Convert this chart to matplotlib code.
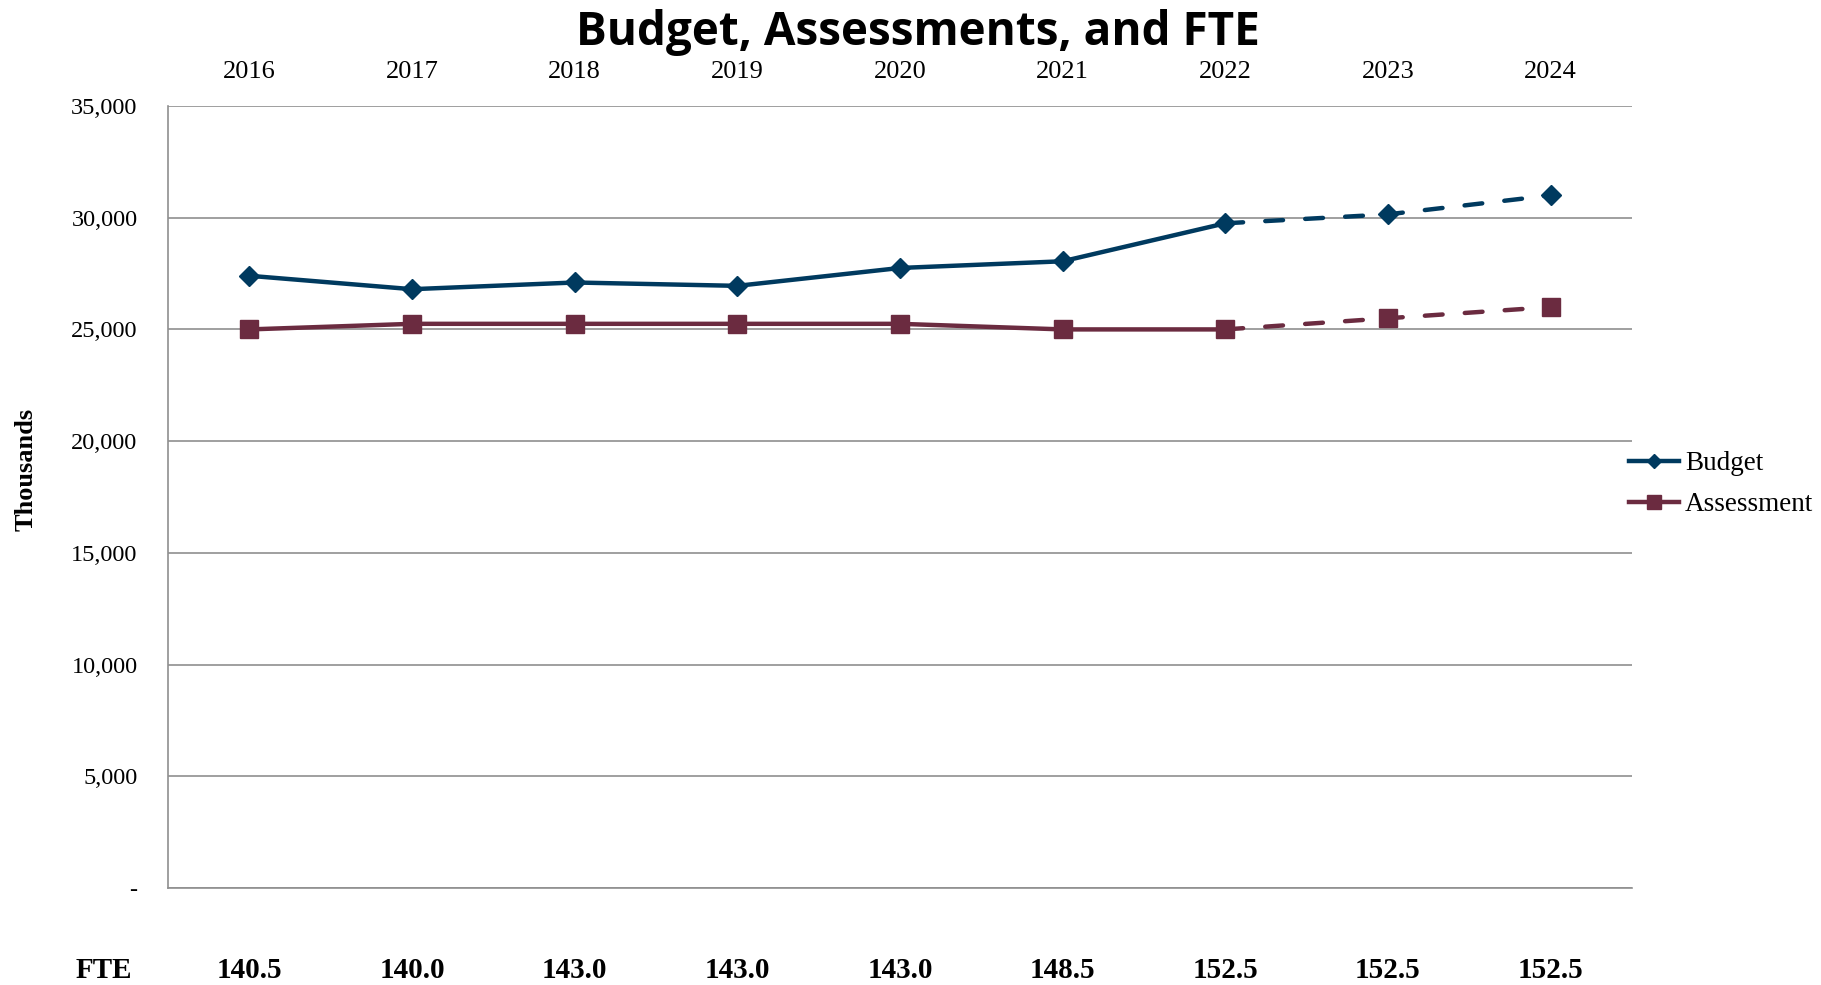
import matplotlib.pyplot as plt
import numpy as np

plt.rcParams['font.family'] = ['Liberation Serif', 'DejaVu Serif']

years = ['2016', '2017', '2018', '2019', '2020', '2021', '2022', '2023', '2024']
budget = [27400, 26800, 27100, 26950, 27750, 28050, 29750, 30150, 31000]
assessment = [25000, 25250, 25250, 25250, 25250, 25000, 25000, 25500, 26000]
fte = ['140.5', '140.0', '143.0', '143.0', '143.0', '148.5', '152.5', '152.5', '152.5']
n_actual = 7  # 2016-2022 solid, later years dashed (projection)

navy = '#003a5f'
maroon = '#6b2b40'
grid_c = '#8f8f8f'

fig = plt.figure(figsize=(18.21, 9.85), dpi=100)
ax = fig.add_axes([0.0923, 0.0985, 0.8039, 0.7939])

x = np.arange(len(years))
s = n_actual - 1

ax.plot(x[:n_actual], budget[:n_actual], color=navy, lw=3.2, marker='D', ms=10,
        label='Budget', zorder=3)
ax.plot(x[s:], budget[s:], color=navy, lw=3.2, ls=(0, (4, 5)), dash_capstyle='round',
        zorder=3)
ax.plot(x[s + 1:], budget[s + 1:], color=navy, lw=0, marker='D', ms=10, zorder=4)

ax.plot(x[:n_actual], assessment[:n_actual], color=maroon, lw=3.2, marker='s', ms=13,
        label='Assessment', zorder=3)
ax.plot(x[s:], assessment[s:], color=maroon, lw=3.2, ls=(0, (4, 5)), dash_capstyle='round',
        zorder=3)
ax.plot(x[s + 1:], assessment[s + 1:], color=maroon, lw=0, marker='s', ms=13, zorder=4)

ax.set_xlim(-0.5, len(years) - 0.5)
ax.set_ylim(0, 35000)
ax.set_yticks(np.arange(0, 35001, 5000))
ax.set_yticklabels(['-'] + [f'{v:,}' for v in range(5000, 35001, 5000)], fontsize=17.5)
ax.tick_params(axis='y', length=0, pad=22)
ax.set_xticks([])
ax.grid(axis='y', color=grid_c, lw=1.2)
ax.set_axisbelow(True)

ax.spines['top'].set_visible(False)
ax.spines['right'].set_visible(False)
ax.spines['left'].set_color(grid_c)
ax.spines['bottom'].set_color(grid_c)
ax.spines['left'].set_linewidth(1.2)
ax.spines['bottom'].set_linewidth(1.2)

# years along the top, FTE row along the bottom
for i, (yr, f) in enumerate(zip(years, fte)):
    ax.text(i, 1.043, yr, transform=ax.get_xaxis_transform(), ha='center', va='center',
            fontsize=19)
    ax.text(i, -0.105, f, transform=ax.get_xaxis_transform(), ha='center', va='center',
            fontsize=21, fontweight='bold')
fig.text(104 / 1821, 1 - 970 / 985, 'FTE', ha='center', va='center', fontsize=21,
         fontweight='bold')

fig.text(26 / 1821, 0.523, 'Thousands', rotation=90, ha='center', va='center',
         fontsize=19, fontweight='bold')

fig.suptitle('Budget, Assessments, and FTE', x=0.504, y=1 - 32 / 985, va='center',
             fontsize=33, fontweight='bold', family='Open Sans')

fig.legend(loc='upper left', bbox_to_anchor=(0.8946, 0.542), frameon=False,
           fontsize=19.5, handlelength=1.85, handletextpad=0.22, labelspacing=0.6,
           borderpad=0, borderaxespad=0, markerscale=0.75)

fig.savefig('out.png', dpi=100)
